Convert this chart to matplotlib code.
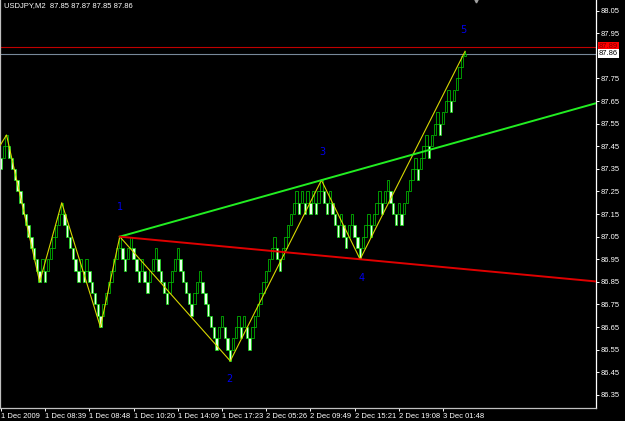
import matplotlib
matplotlib.use('Agg')
import matplotlib.pyplot as plt
from matplotlib import font_manager
import numpy as np

# 글꼴: 좁은 산세리프가 있으면 사용
names = {f.name for f in font_manager.fontManager.ttflist}
small_font = 'Liberation Sans Narrow' if 'Liberation Sans Narrow' in names else 'Liberation Sans'
plt.rcParams['font.family'] = [small_font, 'DejaVu Sans']

# ---- data ----
symbol = 'USDJPY,M2'
last_bar = [87.85, 87.87, 87.85, 87.86]   # open, high, low, close (forming bar)
box = 0.05
first_dir = -1

# renko box closes, bar by bar
closes = [87.35, 87.45, 87.50, 87.40, 87.35, 87.30, 87.25, 87.20, 87.15, 87.10,
          87.05, 87.00, 86.95, 86.90, 86.85, 86.95, 86.85, 86.95, 87.00, 87.05,
          87.10, 87.15, 87.20, 87.10, 87.05, 87.00, 86.95, 86.90, 86.85, 86.95,
          86.85, 86.95, 86.85, 86.80, 86.75, 86.70, 86.65, 86.75, 86.80, 86.85,
          86.90, 86.95, 87.00, 87.05, 86.95, 86.90, 87.00, 87.05, 86.95, 86.90,
          86.85, 86.95, 86.85, 86.80, 86.90, 86.95, 87.00, 86.90, 86.85, 86.80,
          86.75, 86.85, 86.90, 86.95, 87.00, 86.90, 86.85, 86.80, 86.75, 86.70,
          86.80, 86.85, 86.90, 86.80, 86.75, 86.70, 86.65, 86.60, 86.55, 86.65,
          86.70, 86.60, 86.55, 86.50, 86.60, 86.65, 86.70, 86.60, 86.70, 86.60,
          86.55, 86.65, 86.70, 86.75, 86.80, 86.85, 86.90, 86.95, 87.00, 87.05,
          86.95, 86.90, 87.00, 87.05, 87.10, 87.15, 87.20, 87.25, 87.15, 87.25,
          87.15, 87.25, 87.15, 87.25, 87.15, 87.25, 87.30, 87.20, 87.15, 87.25,
          87.15, 87.10, 87.05, 87.15, 87.05, 87.00, 87.10, 87.15, 87.05, 87.00,
          86.95, 87.05, 87.10, 87.15, 87.05, 87.15, 87.20, 87.25, 87.15, 87.25,
          87.30, 87.20, 87.15, 87.10, 87.20, 87.10, 87.20, 87.25, 87.30, 87.35,
          87.40, 87.30, 87.40, 87.45, 87.50, 87.40, 87.50, 87.55, 87.60, 87.50,
          87.60, 87.65, 87.70, 87.60, 87.70, 87.75, 87.80, 87.85]

time_labels = ['1 Dec 2009', '1 Dec 08:39', '1 Dec 08:48', '1 Dec 10:20', '1 Dec 14:09',
               '1 Dec 17:23', '2 Dec 05:26', '2 Dec 09:49', '2 Dec 15:21', '2 Dec 19:08',
               '3 Dec 01:48']
label_every = 16

zz_bars = [-3, 2, 14, 22, 36, 43, 83, 116, 130, 168]
zz_prices = [87.40, 87.50, 86.85, 87.20, 86.65, 87.05, 86.50, 87.30, 86.95, 87.87]

wave_names = ['1', '2', '3', '4', '5']
wave_bars = [43, 83, 116, 130, 168]
wave_prices = [87.05, 86.50, 87.30, 86.95, 87.87]

ask = 87.89
bid = 87.86
price_ticks = [86.35, 86.45, 86.55, 86.65, 86.75, 86.85, 86.95, 87.05, 87.15,
               87.25, 87.35, 87.45, 87.55, 87.65, 87.75, 87.95, 88.05]

# ---- figure ----
fig = plt.figure(figsize=(6.25, 4.21), dpi=100, facecolor='black')
ax = fig.add_axes([0, 13 / 421, 596 / 625, 408 / 421])
ax.set_facecolor('black')

# 시가 계산 (renko 규칙)
opens = []
d = first_dir
for i, c in enumerate(closes):
    if i > 0:
        d = 1 if c > closes[i - 1] else -1
    opens.append(round(c - d * box, 2))

x = np.arange(len(closes))
o = np.array(opens)
c = np.array(closes)
faces = ['black' if cc > oo else '#eaffea' for oo, cc in zip(o, c)]
ax.bar(x, np.abs(c - o), bottom=np.minimum(o, c), width=0.85, color=faces,
       edgecolor='#00ee00', linewidth=0.45, zorder=2)

# 마지막 미완성 봉
n = len(closes)
ax.vlines(n, last_bar[2], last_bar[1], color='#00ee00', lw=0.6, zorder=2)
ax.bar(n, last_bar[3] - last_bar[0], bottom=last_bar[0], width=0.85, color='black',
       edgecolor='#00ee00', linewidth=0.45, zorder=2)

xmin, xmax = -0.36, 215.4
ax.set_xlim(xmin, xmax)
ax.set_ylim(86.292, 88.097)

# zigzag
ax.plot(zz_bars, zz_prices, color='#d8d800', lw=0.8, zorder=3)


# trend lines (ray to the right)
def ray(b0, p0, b1, p1, color):
    slope = (p1 - p0) / (b1 - b0)
    ax.plot([b0, xmax], [p0, p0 + slope * (xmax - b0)], color=color, lw=1.4, zorder=4)


ray(wave_bars[0], wave_prices[0], wave_bars[2], wave_prices[2], '#22ee22')
ray(wave_bars[0], wave_prices[0], wave_bars[3], wave_prices[3], '#e00000')

# ask / bid lines
ax.axhline(ask, color='#c00000', lw=0.8, zorder=1)
ax.axhline(bid, color='#778899', lw=0.8, zorder=1)

# wave numbers
offsets = [(0, 21), (-1, -13), (1, 20), (1, -13.5), (-1, 15.5)]
for name, b, p, off in zip(wave_names, wave_bars, wave_prices, offsets):
    ax.annotate(name, (b, p), xytext=off, textcoords='offset points', color='#0000ee',
                fontsize=7, ha='center', va='center', family='DejaVu Sans', zorder=5)

# chart shift marker
ax.plot([171.8], [88.097], marker='v', color='#a0a0a0', markersize=3.5, clip_on=False)

# axes style
ax.spines['top'].set_visible(False)
ax.spines['left'].set_color('#c0c0c0')
ax.spines['bottom'].set_color('#c0c0c0')
ax.spines['right'].set_color('white')
for s in ['left', 'bottom', 'right']:
    ax.spines[s].set_linewidth(0.9)

ax.yaxis.tick_right()
ax.set_yticks(price_ticks)
ax.set_yticklabels(['%.2f' % t for t in price_ticks])
ax.tick_params(axis='y', colors='white', labelsize=5.5, length=2, width=0.7, pad=1)

tick_pos = [i * label_every for i in range(len(time_labels))]
ax.set_xticks(tick_pos)
ax.set_xticklabels(time_labels)
ax.tick_params(axis='x', colors='white', labelsize=5.5, length=2.5, width=0.7, pad=1)
for lbl in ax.get_xticklabels():
    lbl.set_ha('left')

# ask / bid price boxes
ax.annotate('%.2f' % ask, (1.0, ask), xycoords=('axes fraction', 'data'), xytext=(2, 0),
            textcoords='offset points', color='#800000', fontsize=5.5, va='center', ha='left',
            bbox=dict(boxstyle='square,pad=0.15', fc='#ff0000', ec='none'), annotation_clip=False)
ax.annotate('%.2f' % bid, (1.0, bid), xycoords=('axes fraction', 'data'), xytext=(2, 0),
            textcoords='offset points', color='black', fontsize=5.5, va='center', ha='left',
            bbox=dict(boxstyle='square,pad=0.15', fc='white', ec='none'), annotation_clip=False)

fig.text(4 / 625, 1 - 6 / 421, '%s  %.2f %.2f %.2f %.2f' % (symbol, *last_bar),
         color='white', fontsize=5.5, va='center', ha='left')

fig.savefig('out.png', dpi=100, facecolor='black')
